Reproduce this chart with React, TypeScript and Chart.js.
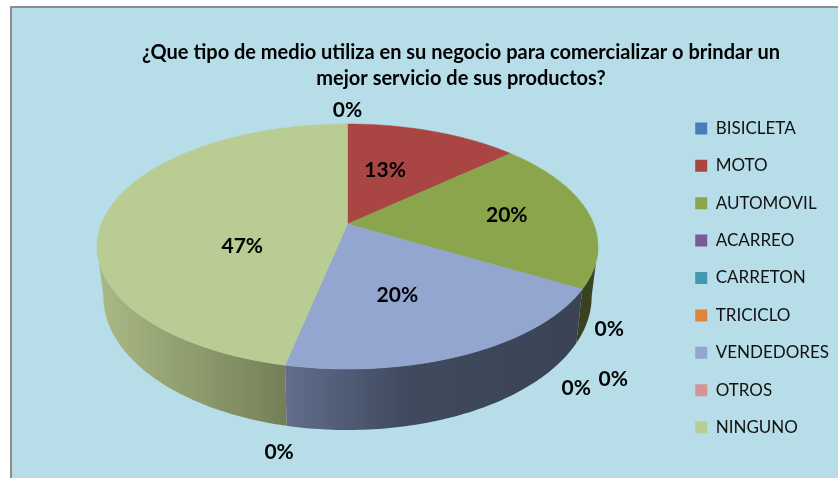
import React, { useEffect, useRef } from "react";
import { Chart, registerables } from "chart.js";

Chart.register(...registerables);

const titleLines = [
  "¿Que tipo de medio utiliza en su negocio para comercializar o brindar un",
  "mejor servicio de sus productos?",
];
const categories = ["BISICLETA", "MOTO", "AUTOMOVIL", "ACARREO", "CARRETON", "TRICICLO", "VENDEDORES", "OTROS", "NINGUNO"];
const responses = [0, 2, 3, 0, 0, 0, 3, 0, 7];
const sliceColors = ["#4A7EBB", "#A94543", "#8AA54C", "#7A5A9A", "#4397B0", "#DE853C", "#92A6CF", "#D39493", "#B8CC93"];

// Perspective of the tilted disc (style only)
const CX = 347.5, CY = 224, SX = 246.2, PERSP = -0.1837;
const TOP_B = 118.37, BOT_SX = 240, BOT_B = 129, BOT_DY = 48;
const LABEL_FONT = "bold 21px Lato";

// Label anchor per slice: radial factor and nudge
const labelAnchors: [number, number, number][] = [
  [1, 0, -14], [0.6, -17, 5], [0.6, 14, -1], [1, 27, 40], [1, 31, 90],
  [1, -6, 99], [0.6, -17, -1], [1, -6, 87], [0.6, 40, 30],
];

const top = (t: number, r = 1): [number, number] => {
  const u = r * Math.sin(t), v = -r * Math.cos(t), w = 1 + PERSP * v;
  return [CX + (SX * u) / w, CY + (TOP_B * v) / w];
};
const bottom = (t: number): [number, number] => {
  const u = Math.sin(t), v = -Math.cos(t), w = 1 + PERSP * v;
  return [CX + (BOT_SX * u) / w, CY + BOT_DY + (BOT_B * v) / w];
};

const wallStops: Record<number, [number, string][]> = {
  2: [[0, "#37401F"], [1, "#3A4322"]],
  6: [[0, "#616D8C"], [0.4, "#3F4A5E"], [1, "#3A4354"]],
  8: [[0, "#A9B984"], [1, "#747F58"]],
};
const wallSpan: Record<number, [number, number]> = { 2: [560, 600], 6: [287, 580], 8: [100, 286] };

const piePlugin = {
  id: "tiltedPie",
  beforeDraw(chart: any) {
    const { ctx, width, height } = chart;
    ctx.save();
    ctx.fillStyle = "#FFFFFF";
    ctx.fillRect(0, 0, width, height);
    ctx.fillStyle = "#8C8C8C";
    ctx.fillRect(10, 6, width - 10, height - 6);
    ctx.fillStyle = "#B7DDE8";
    ctx.fillRect(12, 8, width - 12, height - 8);
    ctx.restore();
  },
  beforeDatasetDraw(chart: any) {
    const { ctx } = chart;
    const arcs = chart.getDatasetMeta(0).data;
    const wallFrom = Math.acos(PERSP);
    const wallTo = 2 * Math.PI - wallFrom;
    const angles = arcs.map((a: any) => [a.startAngle + Math.PI / 2, a.endAngle + Math.PI / 2]);
    ctx.save();
    angles.forEach(([s, e]: number[], i: number) => {
      const a = Math.max(s, wallFrom), b = Math.min(e, wallTo);
      if (b <= a || !wallStops[i]) return;
      const n = 80;
      ctx.beginPath();
      for (let k = 0; k <= n; k++) {
        const p = top(a + ((b - a) * k) / n);
        k ? ctx.lineTo(p[0], p[1]) : ctx.moveTo(p[0], p[1]);
      }
      for (let k = n; k >= 0; k--) {
        const p = bottom(a + ((b - a) * k) / n);
        ctx.lineTo(p[0], p[1]);
      }
      ctx.closePath();
      const [x0, x1] = wallSpan[i];
      const g = ctx.createLinearGradient(x0, 0, x1, 0);
      wallStops[i].forEach(([o, c]) => g.addColorStop(o, c));
      ctx.fillStyle = g;
      ctx.fill();
    });
    angles.forEach(([s, e]: number[], i: number) => {
      if (e - s <= 0) return;
      const n = 120;
      ctx.beginPath();
      ctx.moveTo(CX, CY);
      for (let k = 0; k <= n; k++) {
        const p = top(s + ((e - s) * k) / n);
        ctx.lineTo(p[0], p[1]);
      }
      ctx.closePath();
      ctx.fillStyle = sliceColors[i];
      ctx.strokeStyle = sliceColors[i];
      ctx.lineWidth = 0.5;
      ctx.fill();
      ctx.stroke();
    });
    ctx.restore();
    return false;
  },
  afterDatasetsDraw(chart: any) {
    const { ctx } = chart;
    const arcs = chart.getDatasetMeta(0).data;
    const total = responses.reduce((x, y) => x + y, 0);
    ctx.save();
    ctx.font = LABEL_FONT;
    ctx.fillStyle = "#000000";
    ctx.textAlign = "center";
    ctx.textBaseline = "middle";
    arcs.forEach((a: any, i: number) => {
      const mid = (a.startAngle + a.endAngle) / 2 + Math.PI / 2;
      const [r, dx, dy] = labelAnchors[i];
      const p = top(mid, r);
      ctx.fillText(`${Math.round((responses[i] / total) * 100)}%`, p[0] + dx, p[1] + dy);
    });
    ctx.restore();
  },
};

export default function App() {
  const ref = useRef<HTMLCanvasElement>(null);
  useEffect(() => {
    document.body.style.margin = "0";
    const chart = new Chart(ref.current!, {
      type: "pie",
      data: {
        labels: categories,
        datasets: [{ data: responses, backgroundColor: sliceColors, borderWidth: 0 }],
      },
      options: {
        animation: false,
        responsive: false,
        layout: { padding: { left: 83, right: -1, top: 40, bottom: 14 } },
        plugins: {
          tooltip: { enabled: false },
          title: {
            display: true,
            text: titleLines,
            color: "#000000",
            font: { family: "Lato", size: 20, weight: "bold", lineHeight: 1.3 },
            padding: { top: 0, bottom: 0 },
          },
          legend: {
            display: true,
            position: "right",
            fullSize: false,
            labels: {
              color: "#111111",
              font: { family: "Lato", size: 17 },
              boxWidth: 12,
              boxHeight: 12,
              padding: 20.4,
            },
          },
        },
      },
      plugins: [piePlugin],
    } as any);
    return () => chart.destroy();
  }, []);
  return (
    <div style={{ width: 838, height: 478 }}>
      <canvas ref={ref} width={838} height={478} style={{ display: "block" }} />
    </div>
  );
}
